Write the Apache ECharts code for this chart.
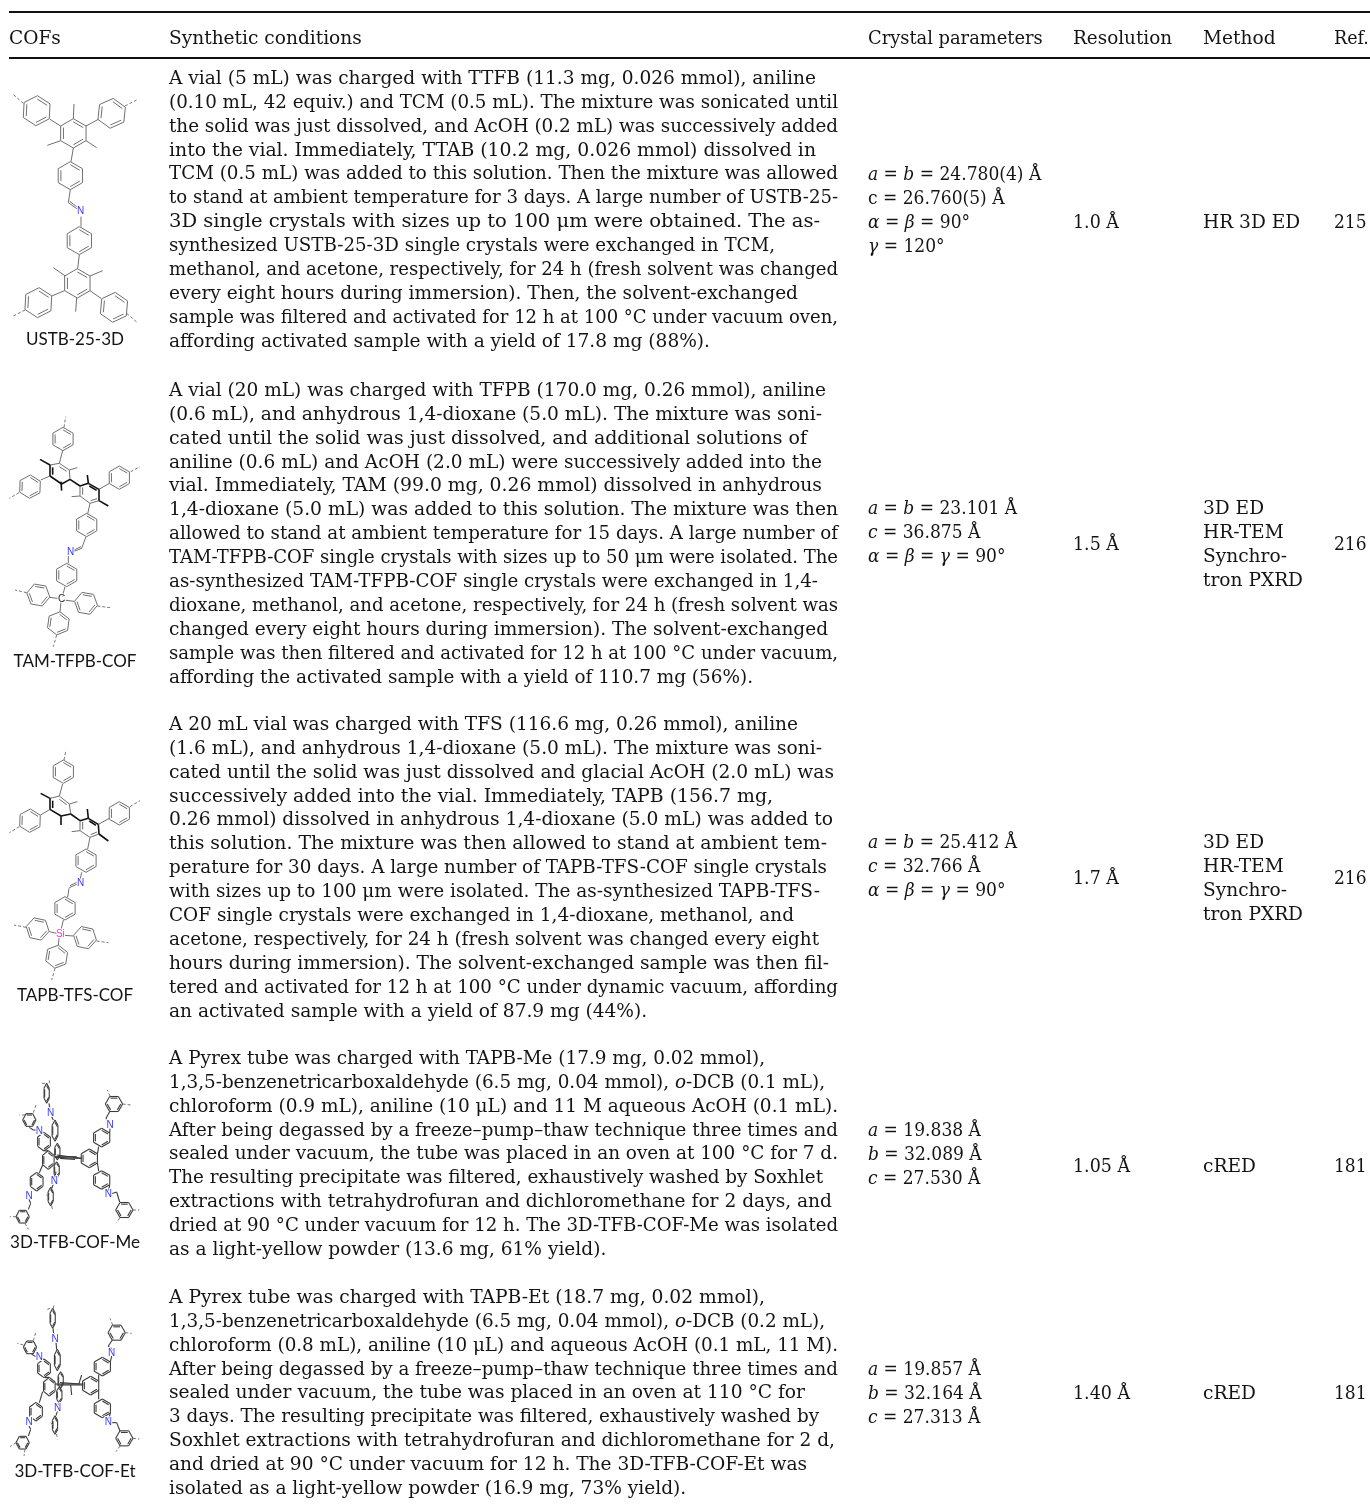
<!DOCTYPE html>
<html>
<head>
<meta charset="utf-8">
<style>html,body{margin:0;padding:0;background:#fff}#chart{width:1370px;height:1506px}</style>
<script src="https://cdn.jsdelivr.net/npm/echarts@6/dist/echarts.min.js"></script>
</head>
<body>
<div id="chart"></div>
<script>
const headers = ['COFs', 'Synthetic conditions', 'Crystal parameters', 'Resolution', 'Method', 'Ref.'];
const cofNames = ['USTB-25-3D', 'TAM-TFPB-COF', 'TAPB-TFS-COF', '3D-TFB-COF-Me', '3D-TFB-COF-Et'];
const conditions1 = [
	'A vial (5 mL) was charged with TTFB (11.3 mg, 0.026 mmol), aniline',
	'(0.10 mL, 42 equiv.) and TCM (0.5 mL). The mixture was sonicated until',
	'the solid was just dissolved, and AcOH (0.2 mL) was successively added',
	'into the vial. Immediately, TTAB (10.2 mg, 0.026 mmol) dissolved in',
	'TCM (0.5 mL) was added to this solution. Then the mixture was allowed',
	'to stand at ambient temperature for 3 days. A large number of USTB-25-',
	'3D single crystals with sizes up to 100 μm were obtained. The as-',
	'synthesized USTB-25-3D single crystals were exchanged in TCM,',
	'methanol, and acetone, respectively, for 24 h (fresh solvent was changed',
	'every eight hours during immersion). Then, the solvent-exchanged',
	'sample was filtered and activated for 12 h at 100 °C under vacuum oven,',
	'affording activated sample with a yield of 17.8 mg (88%).',
];
const conditions2 = [
	'A vial (20 mL) was charged with TFPB (170.0 mg, 0.26 mmol), aniline',
	'(0.6 mL), and anhydrous 1,4-dioxane (5.0 mL). The mixture was soni-',
	'cated until the solid was just dissolved, and additional solutions of',
	'aniline (0.6 mL) and AcOH (2.0 mL) were successively added into the',
	'vial. Immediately, TAM (99.0 mg, 0.26 mmol) dissolved in anhydrous',
	'1,4-dioxane (5.0 mL) was added to this solution. The mixture was then',
	'allowed to stand at ambient temperature for 15 days. A large number of',
	'TAM-TFPB-COF single crystals with sizes up to 50 μm were isolated. The',
	'as-synthesized TAM-TFPB-COF single crystals were exchanged in 1,4-',
	'dioxane, methanol, and acetone, respectively, for 24 h (fresh solvent was',
	'changed every eight hours during immersion). The solvent-exchanged',
	'sample was then filtered and activated for 12 h at 100 °C under vacuum,',
	'affording the activated sample with a yield of 110.7 mg (56%).',
];
const conditions3 = [
	'A 20 mL vial was charged with TFS (116.6 mg, 0.26 mmol), aniline',
	'(1.6 mL), and anhydrous 1,4-dioxane (5.0 mL). The mixture was soni-',
	'cated until the solid was just dissolved and glacial AcOH (2.0 mL) was',
	'successively added into the vial. Immediately, TAPB (156.7 mg,',
	'0.26 mmol) dissolved in anhydrous 1,4-dioxane (5.0 mL) was added to',
	'this solution. The mixture was then allowed to stand at ambient tem-',
	'perature for 30 days. A large number of TAPB-TFS-COF single crystals',
	'with sizes up to 100 μm were isolated. The as-synthesized TAPB-TFS-',
	'COF single crystals were exchanged in 1,4-dioxane, methanol, and',
	'acetone, respectively, for 24 h (fresh solvent was changed every eight',
	'hours during immersion). The solvent-exchanged sample was then fil-',
	'tered and activated for 12 h at 100 °C under dynamic vacuum, affording',
	'an activated sample with a yield of 87.9 mg (44%).',
];
const conditions4 = [
	'A Pyrex tube was charged with TAPB-Me (17.9 mg, 0.02 mmol),',
	'1,3,5-benzenetricarboxaldehyde (6.5 mg, 0.04 mmol), {i|o}-DCB (0.1 mL),',
	'chloroform (0.9 mL), aniline (10 μL) and 11 M aqueous AcOH (0.1 mL).',
	'After being degassed by a freeze–pump–thaw technique three times and',
	'sealed under vacuum, the tube was placed in an oven at 100 °C for 7 d.',
	'The resulting precipitate was filtered, exhaustively washed by Soxhlet',
	'extractions with tetrahydrofuran and dichloromethane for 2 days, and',
	'dried at 90 °C under vacuum for 12 h. The 3D-TFB-COF-Me was isolated',
	'as a light-yellow powder (13.6 mg, 61% yield).',
];
const conditions5 = [
	'A Pyrex tube was charged with TAPB-Et (18.7 mg, 0.02 mmol),',
	'1,3,5-benzenetricarboxaldehyde (6.5 mg, 0.04 mmol), {i|o}-DCB (0.2 mL),',
	'chloroform (0.8 mL), aniline (10 μL) and aqueous AcOH (0.1 mL, 11 M).',
	'After being degassed by a freeze–pump–thaw technique three times and',
	'sealed under vacuum, the tube was placed in an oven at 110 °C for',
	'3 days. The resulting precipitate was filtered, exhaustively washed by',
	'Soxhlet extractions with tetrahydrofuran and dichloromethane for 2 d,',
	'and dried at 90 °C under vacuum for 12 h. The 3D-TFB-COF-Et was',
	'isolated as a light-yellow powder (16.9 mg, 73% yield).',
];
const crystal1 = ['{i|a} = {i|b} = 24.780(4) Å', 'c = 26.760(5) Å', '{i|α} = {i|β} = 90°', '{i|γ} = 120°'];
const crystal2 = ['{i|a} = {i|b} = 23.101 Å', '{i|c} = 36.875 Å', '{i|α} = {i|β} = {i|γ} = 90°'];
const crystal3 = ['{i|a} = {i|b} = 25.412 Å', '{i|c} = 32.766 Å', '{i|α} = {i|β} = {i|γ} = 90°'];
const crystal4 = ['{i|a} = 19.838 Å', '{i|b} = 32.089 Å', '{i|c} = 27.530 Å'];
const crystal5 = ['{i|a} = 19.857 Å', '{i|b} = 32.164 Å', '{i|c} = 27.313 Å'];
const resolutions = ['1.0 Å', '1.5 Å', '1.7 Å', '1.05 Å', '1.40 Å'];
const methods = [['HR 3D ED'], ['3D ED', 'HR-TEM', 'Synchro-', 'tron PXRD'], ['3D ED', 'HR-TEM', 'Synchro-', 'tron PXRD'], ['cRED'], ['cRED']];
const refs = ['215', '216', '216', '181', '181'];

// molecule sketches, [cx, cy, rx, ry, rotation] for rings, [x1, y1, x2, y2] for bonds
const mol1Rings = [[110,332,45,45,33], [335,340,45,45,36], [220,400,44,44,30], [211,527,42,42,30], [238,722,42,42,30], [232,850,44,44,30], [115,908,45,45,33], [342,922,45,45,35]];
const mol1Bonds = [[220,356,222,312], [182,422,142,436], [258,422,290,443], [196,828,160,803], [270,828,308,812], [230,894,227,935], [182,378,150,358], [258,378,295,358], [220,444,213,485], [238,764,233,806], [194,872,155,888], [270,872,303,895], [211,569,205,608], [205,608,233,628], [209,604,230,620], [243,650,243,680]];
const mol1Dashes = [[70,310,38,282], [375,318,410,300], [75,930,40,948], [380,940,410,966]];
const mol1Atoms = [['N', 242, 635, '#3a3aff']];

const mol2Rings = [[189,207,35,35,30], [90,350,35,35,32], [358,323,35,35,30], [260,465,35,35,30], [200,615,35,35,30], [115,675,35,35,10], [258,700,35,35,10], [175,760,35,35,38]];
const mol2Bonds = [[178,280,208,300], [178,290,200,304], [208,300,232,293], [150,285,178,280], [210,330,208,300], [240,378,215,380], [240,348,240,378], [248,352,248,374], [240,378,270,400], [270,400,297,392], [272,392,291,386], [188,242,178,280], [122,330,150,318], [328,340,297,358], [270,400,263,432], [258,500,245,535], [245,535,220,545], [243,530,222,540], [205,558,205,580], [195,650,187,680], [150,682,178,686], [192,690,222,694], [183,695,180,725]];
const mol2Bold = [[120,268,150,285], [150,285,150,318], [158,292,158,314], [150,318,185,342], [183,335,185,362], [185,342,210,328], [210,328,240,348], [240,348,265,340], [262,315,265,340], [265,340,297,358], [268,348,290,361], [297,358,297,392], [297,392,325,408]];
const mol2Dashes = [[57,368,28,385], [392,305,420,290], [192,172,197,140], [80,668,45,660], [292,708,330,713], [170,795,160,830]];
const mol2Atoms = [['N', 212, 548, '#3a3aff'], ['C', 185, 688, '#222']];

const mol3Rings = [[190,185,35,35,30], [90,332,35,35,32], [358,310,35,35,30], [258,452,35,35,30], [195,595,35,35,30], [113,657,35,35,12], [255,683,35,35,12], [170,740,35,35,39]];
const mol3Bonds = [[178,258,208,282], [178,268,200,284], [208,282,232,275], [150,265,178,258], [212,312,208,282], [240,332,240,362], [248,336,248,358], [240,362,215,365], [240,362,270,382], [270,382,297,372], [272,374,291,366], [188,222,178,258], [122,315,150,298], [328,325,295,343], [270,382,263,417], [245,487,240,510], [232,522,208,533], [230,517,210,527], [207,535,203,562], [190,630,183,660], [148,665,170,670], [192,676,220,678], [177,685,175,705]];
const mol3Bold = [[122,250,150,265], [150,265,150,298], [158,272,158,294], [150,298,183,318], [183,318,183,345], [183,318,212,312], [212,312,240,332], [240,332,265,325], [265,325,262,297], [265,325,295,343], [268,333,288,346], [295,343,297,372], [297,372,325,393]];
const mol3Dashes = [[78,652,42,645], [290,693,325,698], [165,775,155,810], [192,150,198,120], [58,350,28,368], [390,290,420,272]];
const mol3Atoms = [['N', 242, 520, '#3a3aff'], ['Si', 181, 672, '#ff30e0']];

const mol4Rings = [[268,355,28,28,30], [305,293,28,28,30], [305,420,28,28,30], [342,192,26,26,0], [373,510,26,26,0], [145,360,20,28,30], [132,305,22,28,30], [110,425,22,28,30], [88,240,20,22,0], [68,530,20,22,0], [140,160,9,30,30], [165,272,10,32,30], [172,335,9,25,30], [170,390,9,25,30], [152,470,9,28,30]];
const mol4Bonds = [[292,343,296,320], [292,368,296,393], [329,279,330,266], [325,248,318,235], [331,250,323,238], [318,235,330,213], [329,434,326,455], [332,462,350,456], [350,456,359,486], [245,355,165,352], [165,350,230,350], [170,345,245,355], [180,355,225,358], [145,332,135,333], [128,375,118,398], [130,277,125,276], [112,270,100,270], [100,270,88,262], [95,450,90,462], [87,478,92,490], [92,490,85,508], [147,190,150,212], [155,230,160,240], [168,395,164,418], [160,433,155,445]];
const mol4Dashes = [[330,168,322,150], [368,192,392,195], [399,510,418,510], [359,534,350,548], [75,225,58,225], [100,218,108,195], [48,530,30,530], [75,550,85,568], [135,130,125,130], [148,130,148,115], [155,498,158,510], [146,470,135,462]];
const mol4Atoms = [['N', 330, 257, '#3a3aff'], ['N', 325, 463, '#3a3aff'], ['N', 118, 273, '#3a3aff'], ['N', 87, 468, '#3a3aff'], ['N', 152, 220, '#3a3aff'], ['N', 163, 425, '#3a3aff']];

const mol5Rings = [[272,347,28,28,30], [307,290,28,28,30], [307,415,28,28,30], [350,188,26,26,0], [373,505,26,26,0], [148,350,20,28,30], [132,295,22,28,30], [108,425,22,28,30], [90,232,20,22,0], [68,518,20,22,0], [158,145,9,30,30], [172,270,10,32,30], [182,330,9,25,30], [178,375,9,25,30], [165,465,9,28,30]];
const mol5Bonds = [[296,335,296,315], [296,360,296,388], [331,276,335,258], [332,240,325,228], [338,242,331,232], [325,228,337,210], [331,429,326,450], [332,458,350,458], [350,458,360,483], [250,342,165,342], [170,345,250,345], [180,338,240,342], [245,315,237,340], [215,375,212,345], [148,322,135,323], [128,365,118,398], [130,267,125,266], [110,260,102,257], [102,257,95,252], [95,450,90,450], [87,468,92,478], [92,478,85,498], [159,175,162,200], [168,218,170,238], [175,400,174,407], [172,424,168,437]];
const mol5Dashes = [[338,165,330,145], [376,188,395,190], [399,505,418,507], [360,528,348,545], [70,225,52,220], [100,212,108,185], [48,518,30,530], [75,538,72,558], [150,115,142,118], [160,115,163,100], [170,492,172,508], [158,465,150,455]];
const mol5Atoms = [['N', 335, 250, '#3a3aff'], ['N', 325, 458, '#3a3aff'], ['N', 118, 263, '#3a3aff'], ['N', 87, 458, '#3a3aff'], ['N', 165, 208, '#3a3aff'], ['N', 173, 415, '#3a3aff']];

const conditions = [conditions1, conditions2, conditions3, conditions4, conditions5];
const crystals = [crystal1, crystal2, crystal3, crystal4, crystal5];
const molecules = [
	{ rings: mol1Rings, bonds: mol1Bonds, bold: [], dashes: mol1Dashes, atoms: mol1Atoms },
	{ rings: mol2Rings, bonds: mol2Bonds, bold: mol2Bold, dashes: mol2Dashes, atoms: mol2Atoms },
	{ rings: mol3Rings, bonds: mol3Bonds, bold: mol3Bold, dashes: mol3Dashes, atoms: mol3Atoms },
	{ rings: mol4Rings, bonds: mol4Bonds, bold: [], dashes: mol4Dashes, atoms: mol4Atoms },
	{ rings: mol5Rings, bonds: mol5Bonds, bold: [], dashes: mol5Dashes, atoms: mol5Atoms },
];

// layout
const W = 1370, H = 1506;
const colX = [9, 169, 868, 1073, 1203, 1334];
const lineH = 23.95;
const headerY = 39;
const ruleY = [12, 58];
const rowY = [79, 391, 725, 1059, 1298];
const crystalY = [175, 509, 843, 1131, 1370];
const resY = [223, 545, 879, 1167, 1394];
const methodY = [223, 509, 843, 1167, 1394];
const captionY = [340, 662, 996, 1243, 1472];
const molOrigin = [[0, 0], [0, 370], [0, 710], [0, 1040], [0, 1270]];
const molZoom = 3;
// right edge of each set line, the column is not fully justified; 0 means natural width
const lineEnds = [
	[816, 838, 838, 816, 838, 838, 820, 775, 838, 798, 838, 710],
	[826, 822, 807, 822, 822, 838, 838, 838, 818, 838, 828, 838, 753],
	[798, 822, 834, 773, 833, 827, 827, 820, 794, 819, 829, 838, 0],
	[765, 825, 838, 838, 838, 823, 832, 838, 0],
	[765, 825, 838, 838, 805, 819, 835, 807, 0],
];
// width factors per column on top of the body stretch
const headerFit = [1, 1, 0.96, 0.99, 1, 0.94];
const crystalFit = 0.92;
const resFit = 0.94;
const refFit = 0.92;

const SERIF = '"DejaVu Serif Condensed", "DejaVu Serif", serif';
const bodyFont = '18px ' + SERIF;
const capFont = '17px Lato, "Noto Sans", sans-serif';
const textColor = '#141414';

const measureCtx = document.createElement('canvas').getContext('2d');
const plain = (s) => s.replace(/\{i\|([^}]*)\}/g, '$1');
const widthOf = (s, font) => {
	measureCtx.font = font;
	return measureCtx.measureText(plain(s)).width;
};

// stretch the face to the reference set width
const bodyStretch = (816 - 169) / widthOf(conditions1[0], bodyFont);

const textItems = [];
const addText = (text, x, y, opt) => textItems.push(Object.assign({ text, x, y, font: bodyFont, fill: textColor, stretch: bodyStretch }, opt));

headers.forEach((h, i) => addText(h, colX[i], headerY, { stretch: bodyStretch * headerFit[i] }));
conditions.forEach((lines, r) => {
	lines.forEach((line, i) => {
		const end = lineEnds[r][i];
		const stretch = end ? (end - colX[1]) / widthOf(line, bodyFont) : bodyStretch;
		addText(line, colX[1], rowY[r] + i * lineH, { stretch });
	});
	crystals[r].forEach((line, i) => addText(line, colX[2], crystalY[r] + i * lineH, { stretch: bodyStretch * crystalFit }));
	addText(resolutions[r], colX[3], resY[r], { stretch: bodyStretch * resFit });
	methods[r].forEach((line, i) => addText(line, colX[4], methodY[r] + i * lineH));
	addText(refs[r], colX[5], resY[r], { stretch: bodyStretch * refFit });
	addText(cofNames[r], 75, captionY[r], { font: capFont, align: 'center', stretch: 1 });
});

const place = (m, x, y) => [molOrigin[m][0] + x / molZoom, molOrigin[m][1] + y / molZoom];
const placeSeg = (m, s) => place(m, s[0], s[1]).concat(place(m, s[2], s[3]));

// ring outline plus the three inner double bonds
const ringSegments = (m, ring) => {
	const [cx, cy, rx, ry, rot] = ring;
	const vertex = (k, f) => {
		const a = (rot + k * 60) * Math.PI / 180;
		return [cx + rx * f * Math.cos(a), cy + ry * f * Math.sin(a)];
	};
	const segs = [];
	for (let k = 0; k < 6; k++) {
		segs.push(placeSeg(m, vertex(k, 1).concat(vertex(k + 1, 1))));
		if (k % 2 === 0) {
			const p = vertex(k, 0.78), q = vertex(k + 1, 0.78);
			segs.push(placeSeg(m, p.concat(q)));
		}
	}
	return segs;
};

const segmentSeries = (segments, color, width, dash) => ({
	type: 'custom',
	coordinateSystem: 'cartesian2d',
	silent: true,
	animation: false,
	clip: false,
	data: segments,
	encode: { x: [0, 2], y: [1, 3] },
	renderItem: (params, api) => {
		const a = api.coord([api.value(0), api.value(1)]);
		const b = api.coord([api.value(2), api.value(3)]);
		return {
			type: 'line',
			shape: { x1: a[0], y1: a[1], x2: b[0], y2: b[1] },
			style: { stroke: color, lineWidth: width, lineDash: dash || null, fill: null },
		};
	},
});

const grayLight = [], grayDark = [], boldSegs = [], dashSegs = [];
molecules.forEach((mol, m) => {
	const target = m >= 3 ? grayDark : grayLight;
	mol.rings.forEach((ring) => target.push(...ringSegments(m, ring)));
	mol.bonds.forEach((b) => target.push(placeSeg(m, b)));
	mol.bold.forEach((b) => boldSegs.push(placeSeg(m, b)));
	mol.dashes.forEach((b) => dashSegs.push(placeSeg(m, b)));
	mol.atoms.forEach((a) => {
		const p = place(m, a[1], a[2]);
		addText(a[0], p[0], p[1], { font: '10px "Liberation Sans", sans-serif', fill: a[3], align: 'center', stretch: 1, halo: true });
	});
});

const textSeries = {
	type: 'custom',
	coordinateSystem: 'cartesian2d',
	silent: true,
	animation: false,
	clip: false,
	data: textItems.map((t) => [t.x, t.y]),
	renderItem: (params, api) => {
		const t = textItems[params.dataIndex];
		const p = api.coord([api.value(0), api.value(1)]);
		return {
			type: 'text',
			x: p[0],
			y: p[1],
			scaleX: t.stretch,
			style: {
				text: t.text,
				font: t.font,
				fill: t.fill,
				align: t.align || 'left',
				verticalAlign: 'middle',
				stroke: t.halo ? '#fff' : null,
				lineWidth: t.halo ? 2 : 0,
				rich: { i: { font: 'italic ' + t.font, fill: t.fill } },
			},
		};
	},
};

const chart = echarts.init(document.getElementById('chart'), null, { renderer: 'canvas' });
chart.setOption({
	animation: false,
	backgroundColor: '#fff',
	grid: { left: 0, right: 0, top: 0, bottom: 0 },
	xAxis: { type: 'value', min: 0, max: W, show: false },
	yAxis: { type: 'value', min: 0, max: H, inverse: true, show: false },
	series: [
		segmentSeries(ruleY.map((y) => [colX[0], y, W, y]), '#111', 2.2),
		segmentSeries(grayLight, '#707070', 1),
		segmentSeries(grayDark, '#3c3c3c', 1.1),
		segmentSeries(boldSegs, '#111', 1.6),
		segmentSeries(dashSegs, '#777', 1, [3, 2]),
		textSeries,
	],
});
</script>
</body>
</html>
